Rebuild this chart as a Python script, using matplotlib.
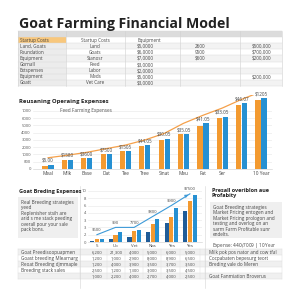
import matplotlib
matplotlib.use("Agg")
import matplotlib.pyplot as plt
from matplotlib.patches import Rectangle
import numpy as np

plt.rcParams['font.family'] = ['Open Sans', 'DejaVu Sans']

# ---------------- data ----------------
title = "Goat Farming Financial Model"

top_rows = [
    ["Startup Costs", "Startup Costs", "Equipment", "", ""],
    ["Land, Goats", "Land", "$5,0000", "2600", "$500,000"],
    ["Foundation", "Goats", "$6,0000", "9500", "$700,000"],
    ["Equipment", "Stanosr", "$7,0000", "$600", "$200,000"],
    ["Gornall", "Feed", "$3,0000", "", ""],
    ["Extspenses", "Labor", "$2,0000", "", ""],
    ["Equipment", "Meds", "$5,0000", "", "$200,000"],
    ["Goatt", "Vet Care", "$3,0000", "", ""],
]

op_title = "Reusaning Operaing Expenses"
op_inner = "Feed Farming Expenses"
op_cats = ["Meal", "Milk", "Base", "Dat", "Tee", "Tree", "Sinat", "Meu", "Fat", "Ser", "", "10 Year"]
op_orange = [0.45, 1.3, 1.5, 2.0, 2.45, 3.2, 4.05, 4.8, 5.9, 7.0, 8.8, 9.55]
op_blue = [0.6, 1.3, 1.5, 2.0, 2.45, 3.3, 4.2, 4.8, 6.3, 7.2, 9.1, 9.8]
op_line = [1.55, 1.9, 2.3, 2.8, 3.3, 4.0, 4.9, 6.3, 7.4, 8.4, 9.6, 10.65]
op_labels = ["$5.00", "$1580", "$3600", "$7500", "$1505", "$44.05", "$30.05", "$35.05",
             "$41.05", "$33.05", "$46.07", "$1205"]
op_ytick_labels = ["0", "000", "1000", "2000", "3000", "4000", "5000", "6000", "1000"]

br_title = "Goat Breding Expenses"
br_note = "Real Breeding strategies\nyeed\nReplenisher stsih are\narid s me stack peeding\noverall pour your sale\npack bons."
br_cats = ["5", "Uo", "Vet", "Nas", "Yes", "Yes"]
br_dark = [0.2, 0.35, 0.7, 1.4, 2.6, 4.2]
br_orange = [0.35, 1.0, 1.45, 2.45, 3.45, 5.6]
br_blue = [0.4, 1.35, 1.7, 3.2, 4.6, 6.45]
br_line = [1.0, 2.0, 2.0, 3.5, 5.0, 6.6]
br_labels = ["$600", "$90", "7700", "$800", "$900", "$7500"]
br_ytick_labels = ["0", "2", "3", "3", "4", "6", "8", "10"]

pr_title = "Presall overiblon aue\nProfabity"
pr_note = "Goat Breeding strategies\nMarket Pricing entogen and\nMarket Pricing prologon and\ntesting and overlog on an\nsarm Farm Profitable sunr\nendelts."
pr_expense = "Expense: $440/$7009 | 10 Year"

bot_rows = [
    ["Goat Preedisoopuapmen", "6,200", "21,300", "4,000", "5,000", "6,000", "5,000", "Milk pok pos nator and cow tfal"],
    ["Goast breeding Mlearnarg", "1,200", "1,000", "2,900", "8,000", "8,900", "6,500", "Cocpabaten bepesurg teort"],
    ["Reoat Breeding djmmaple", "1,200", "4,000", "3,900", "3,500", "3,700", "3,500", "Breding vale do Meren"],
    ["Breeding stack sales", "2,500", "1,200", "1,300", "3,000", "3,500", "4,500", ""],
    ["", "1,000", "2,200", "4,000", "2,700", "4,000", "2,500", "Goat Fanmiation Broverus"],
]

ORANGE = "#f39a30"
BLUE = "#2690d2"
DARK = "#1f5c98"
TXT = "#444444"

W = H = 300
fig = plt.figure(figsize=(3, 3), dpi=100)
fig.patch.set_facecolor("white")

# overlay axes in pixel coordinates for tables / text
ov = fig.add_axes([0, 0, 1, 1])
ov.set_xlim(0, W)
ov.set_ylim(H, 0)
ov.axis("off")

ov.text(19, 24, title, fontsize=10.2, fontweight="bold", color="#222222", va="center", ha="left")

# ---------------- top table ----------------
col_edges = [18, 66, 125, 180, 240, 282]
row_h = 6.1
t_top = 31
ov.add_patch(Rectangle((18, t_top), 264, row_h, facecolor="#dcdcdc", edgecolor="none"))
for i, row in enumerate(top_rows):
    y0 = t_top + row_h * (i + 1)
    fc = "#f3f3f3" if i % 2 == 1 else "white"
    ov.add_patch(Rectangle((18, y0), 264, row_h, facecolor=fc, edgecolor="none"))
    if i == 0:
        ov.add_patch(Rectangle((18, y0), 48, row_h, facecolor="#f8c77c", edgecolor="none"))
    else:
        ov.add_patch(Rectangle((18, y0), 48, row_h, facecolor="#ececec", edgecolor="none"))
    yc = y0 + row_h / 2
    ov.text(20, yc, row[0], fontsize=3.3, color=TXT, va="center", ha="left")
    ov.text(95, yc, row[1], fontsize=3.3, color=TXT, va="center", ha="center")
    ov.text(137, yc, row[2], fontsize=3.3, color=TXT, va="center", ha="left")
    ov.text(200, yc, row[3], fontsize=3.3, color=TXT, va="center", ha="center")
    ov.text(252, yc, row[4], fontsize=3.3, color=TXT, va="center", ha="left")
t_bot = t_top + row_h * (len(top_rows) + 1)
for xe in col_edges:
    ov.plot([xe, xe], [t_top, t_bot], color="#d0d0d0", lw=0.4)
for k in range(len(top_rows) + 2):
    yy = t_top + row_h * k
    ov.plot([18, 282], [yy, yy], color="#d8d8d8", lw=0.3)

# ---------------- operating expenses chart ----------------
ov.text(19, 101, op_title, fontsize=4.3, fontweight="bold", color="#222222", va="center", ha="left")
# axes: x px 33..272, y px 95..169
ax1 = fig.add_axes([33 / W, 1 - 169 / H, (272 - 33) / W, (169 - 95) / H])
ax1.patch.set_alpha(0)
x = np.arange(len(op_cats))
bw = 0.27
ax1.bar(x - 0.155, op_orange, bw, color=ORANGE, zorder=3)
ax1.bar(x + 0.155, op_blue, bw, color=BLUE, zorder=3)
ax1.plot(x, op_line, color="#f5a04a", lw=0.9, zorder=4)
ax1.annotate("", xy=(x[-1] + 0.35, op_line[-1] + 0.2), xytext=(x[-1] - 0.2, op_line[-1] - 0.2),
             arrowprops=dict(arrowstyle="-|>", color="#f5a04a", lw=0.9, mutation_scale=4), zorder=5)
for xi, o, b, lab in zip(x, op_orange, op_blue, op_labels):
    ax1.text(xi, max(o, b) + 0.25, lab, fontsize=3.3, color=TXT, ha="center", va="bottom", zorder=6)
ax1.set_xlim(-0.78, 11.57)
ax1.set_ylim(0, 10.2)
ax1.set_yticks(range(9))
ax1.set_yticklabels(op_ytick_labels, fontsize=3.0, color="#555555")
ax1.set_xticks(x)
ax1.set_xticklabels(op_cats, fontsize=3.4, color="#444444")
ax1.tick_params(length=0, pad=1.5)
ax1.grid(axis="y", color="#e6e6e6", lw=0.4, zorder=0)
for s in ["top", "right", "left"]:
    ax1.spines[s].set_visible(False)
ax1.spines["bottom"].set_color("#cccccc")
ax1.spines["bottom"].set_linewidth(0.4)
ax1.text(0.6, 8.0, op_inner, fontsize=3.4, color="#555555", ha="left", va="center")

# ---------------- breeding expenses ----------------
ov.text(19, 191, br_title, fontsize=4.0, fontweight="bold", color="#222222", va="center", ha="left")
ov.add_patch(Rectangle((18, 197), 60, 41, facecolor="#efefef", edgecolor="none"))
ov.text(21, 200, br_note, fontsize=3.3, color="#444444", va="top", ha="left", linespacing=1.1)
ov.plot([80, 80], [186, 288], color="#d5d5d5", lw=0.4)

ax2 = fig.add_axes([88 / W, 1 - 242 / H, (202 - 88) / W, (242 - 188) / H])
ax2.patch.set_alpha(0)
x2 = np.arange(len(br_cats))
bw2 = 0.22
ax2.bar(x2 - 0.25, br_dark, bw2, color=DARK, zorder=3)
ax2.bar(x2, br_orange, bw2, color=ORANGE, zorder=3)
ax2.bar(x2 + 0.25, br_blue, bw2, color=BLUE, zorder=3)
ax2.plot(x2, br_line, color="#3d9ad8", lw=0.8, zorder=4)
ax2.annotate("", xy=(x2[-1] + 0.05, br_line[-1] + 0.05), xytext=(x2[-1] - 0.3, br_line[-1] - 0.4),
             arrowprops=dict(arrowstyle="-|>", color="#3d9ad8", lw=0.8, mutation_scale=4), zorder=5)
for xi, v, lab in zip(x2, br_line, br_labels):
    ax2.text(xi, v + 0.35, lab, fontsize=3.0, color=TXT, ha="center", va="bottom", zorder=6)
ax2.set_xlim(-0.48, 5.65)
ax2.set_ylim(0, 7.4)
ax2.set_yticks(range(8))
ax2.set_yticklabels(br_ytick_labels, fontsize=3.0, color="#555555")
ax2.set_xticks(x2)
ax2.set_xticklabels(br_cats, fontsize=3.2, color="#444444")
ax2.tick_params(length=0, pad=1.2)
ax2.grid(axis="y", color="#e6e6e6", lw=0.4, zorder=0)
for s in ["top", "right", "left"]:
    ax2.spines[s].set_visible(False)
ax2.spines["bottom"].set_color("#cccccc")
ax2.spines["bottom"].set_linewidth(0.4)

# ---------------- profitability panel ----------------
ov.plot([205, 205], [186, 288], color="#d5d5d5", lw=0.4)
ov.text(212, 193, pr_title, fontsize=4.0, fontweight="bold", color="#222222", va="center", ha="left",
        linespacing=1.1)
ov.add_patch(Rectangle((210, 202), 72, 36, facecolor="#efefef", edgecolor="none"))
ov.text(213, 205, pr_note, fontsize=3.3, color="#444444", va="top", ha="left", linespacing=1.1)
ov.text(212, 245, pr_expense, fontsize=3.3, color="#444444", va="center", ha="left")

# ---------------- bottom table ----------------
b_top = 249.3
b_rh = 6.0
val_x = [97, 116, 134, 152, 171, 190]
b_edges = [18, 80, 107, 125, 143, 161, 180, 200, 205, 282]
for i, row in enumerate(bot_rows):
    y0 = b_top + b_rh * i
    fc = "#f0f0f0" if i % 2 == 0 else "white"
    ov.add_patch(Rectangle((18, y0), 264, b_rh, facecolor=fc, edgecolor="none"))
    yc = y0 + b_rh / 2
    ov.text(21, yc, row[0], fontsize=3.3, color=TXT, va="center", ha="left")
    for vx, v in zip(val_x, row[1:7]):
        ov.text(vx, yc, v, fontsize=3.0, color=TXT, va="center", ha="center")
    ov.text(209, yc, row[7], fontsize=3.3, color=TXT, va="center", ha="left")
b_bot = b_top + b_rh * len(bot_rows)
for k in range(len(bot_rows) + 1):
    yy = b_top + b_rh * k
    ov.plot([18, 282], [yy, yy], color="#d8d8d8", lw=0.3)
for xe in b_edges:
    ov.plot([xe, xe], [b_top, b_bot], color="#dddddd", lw=0.3)

fig.savefig("out.png", dpi=100, facecolor="white")
